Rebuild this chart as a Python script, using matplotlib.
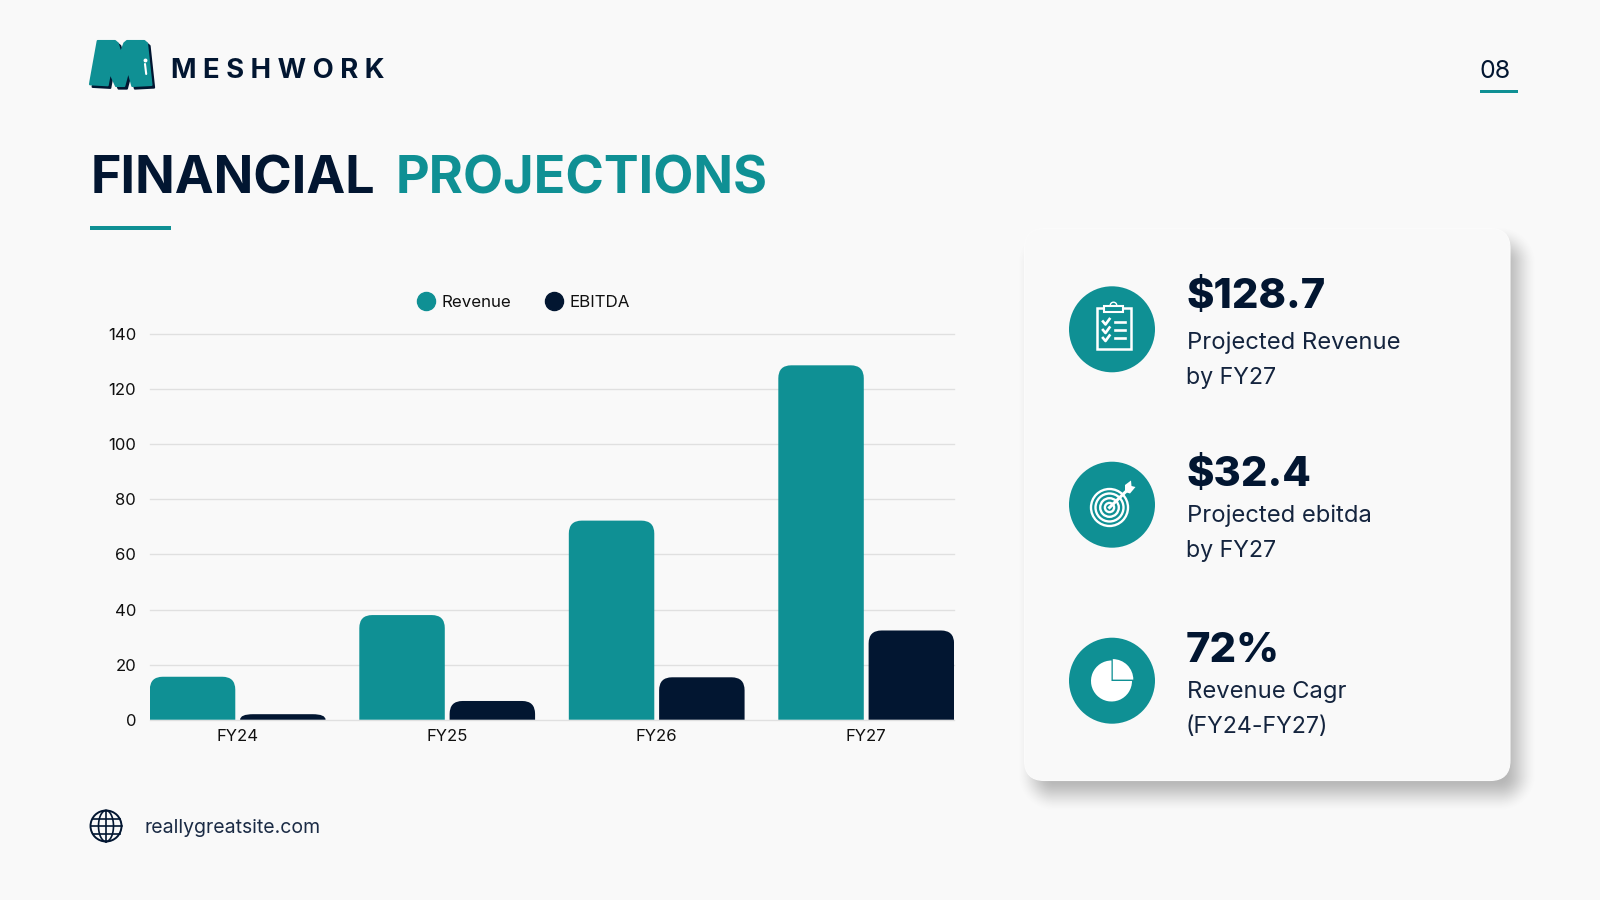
"""Financial projections slide: grouped revenue / EBITDA bars with a KPI card."""
import numpy as np
import matplotlib
matplotlib.use("Agg")
import matplotlib.pyplot as plt
from matplotlib.lines import Line2D
from matplotlib.patches import Circle, FancyBboxPatch, PathPatch, Polygon, Rectangle, Wedge
from matplotlib.path import Path

plt.rcParams["font.family"] = ["Inter", "Lato", "DejaVu Sans"]

NAVY = "#021631"
TEAL = "#0f9094"
BG = "#f9f9f9"
GRID = "#e0e0e0"

YEARS = ["FY24", "FY25", "FY26", "FY27"]
REVENUE = [15.6, 38.0, 72.3, 128.7]
EBITDA = [2.0, 6.8, 15.4, 32.4]
Y_TICKS = [0, 20, 40, 60, 80, 100, 120, 140]

KPI_VALUES = ["$128.7", "$32.4", "72%"]
KPI_LINE1 = ["Projected Revenue", "Projected ebitda", "Revenue Cagr"]
KPI_LINE2 = ["by FY27", "by FY27", "(FY24-FY27)"]

# logo outline in slide pixels
LOGO = [(97.7, 41), (115, 41), (117.7, 43.3), (120.7, 53.3), (124.3, 43.3), (127, 41),
        (144.3, 41), (147, 43.3), (151.5, 85), (132.3, 86), (128.3, 71), (124.3, 86), (116, 86),
        (110, 72.7), (107.7, 85.3), (90, 84.3), (90.5, 81)]

fig = plt.figure(figsize=(16, 9), dpi=100, facecolor=BG)

# slide layer, in pixels with the origin at the top left
bg = fig.add_axes([0, 0, 1, 1], zorder=0)
bg.axis("off")

# card shadow: signed distance of a rounded box pushed through a soft ramp
xx, yy = np.meshgrid(np.arange(980, 1580) + 0.5, np.arange(190, 850) + 0.5)
cx, cy, hw, hh, rad = 1277, 519, 243, 276, 20
qx = np.abs(xx - cx) - hw + rad
qy = np.abs(yy - cy) - hh + rad
dist = np.hypot(np.maximum(qx, 0), np.maximum(qy, 0)) + np.minimum(np.maximum(qx, qy), 0) - rad
soft = np.clip(0.5 - dist / 34, 0, 1)
soft = soft * soft * (3 - 2 * soft) * 0.42
shadow = np.zeros(soft.shape + (4,))
shadow[..., :3] = 0.35
shadow[..., 3] = soft
bg.imshow(shadow, extent=(980, 1580, 850, 190), zorder=1, interpolation="bilinear", aspect="auto")
bg.set_xlim(0, 1600)
bg.set_ylim(900, 0)
bg.add_patch(FancyBboxPatch((1024.5 + 20, 228.5 + 20), 485.5 - 40, 552 - 40,
                            boxstyle="round,pad=20,rounding_size=20", fc=BG, ec="#fbfbfb", lw=0.8, zorder=2))

# logo
bg.add_patch(Polygon([(x + 2.6, y + 2.6) for x, y in LOGO], closed=True, fc=NAVY, ec=NAVY, lw=1.5, joinstyle="round", zorder=3))
bg.add_patch(Polygon(LOGO, closed=True, fc=TEAL, ec=TEAL, lw=1.5, joinstyle="round", zorder=4))
bg.plot([145, 146.2], [64, 74], color="white", lw=1.5, zorder=5, solid_capstyle="round")
bg.plot([144.7], [60], marker="o", ms=1.8, color="white", zorder=5)

bg.text(171, 71.5, "M E S H W O R K", fontsize=19.8, fontweight="bold", color=NAVY, va="center", ha="left")
bg.text(91, 180.5, "FINANCIAL", fontsize=37.5, fontweight="bold", color=NAVY, va="center", ha="left")
bg.text(395.5, 180.5, "PROJECTIONS", fontsize=37.5, fontweight="bold", color=TEAL, va="center", ha="left")
bg.add_patch(Rectangle((90, 226.3), 80.5, 3.5, fc=TEAL, ec="none"))

bg.text(1495, 72, "08", fontsize=18, color=NAVY, va="center", ha="center")
bg.add_patch(Rectangle((1479.5, 90), 38, 3.2, fc=TEAL, ec="none"))

# footer
bg.add_patch(Circle((106, 826), 15.5, fc="none", ec=NAVY, lw=1.4))
th = np.linspace(-np.pi / 2, np.pi / 2, 40)
bg.plot(106 + 7.5 * np.cos(th), 826 + 15.5 * np.sin(th), color=NAVY, lw=1.2)
bg.plot(106 - 7.5 * np.cos(th), 826 + 15.5 * np.sin(th), color=NAVY, lw=1.2)
bg.plot([106, 106], [810.5, 841.5], color=NAVY, lw=1.2)
bg.plot([90.5, 121.5], [826, 826], color=NAVY, lw=1.2)
bg.plot([92.5, 119.5], [818.5, 818.5], color=NAVY, lw=1.2)
bg.plot([92.5, 119.5], [833.5, 833.5], color=NAVY, lw=1.2)
bg.text(145, 828, "reallygreatsite.com", fontsize=14, color="#1b2b45", va="center", ha="left")

# KPI rows
ICON_Y = [329.3, 504.7, 680.7]
VALUE_Y = [297, 474.5, 651]
LINE1_Y = [343, 516, 692]
LINE2_Y = [378, 550.5, 727]
for i in range(3):
    bg.add_patch(Circle((1112, ICON_Y[i]), 43, fc=TEAL, ec="none", zorder=3))
    bg.text(1186, VALUE_Y[i], KPI_VALUES[i], fontsize=30, fontweight=800, color=NAVY, va="center", ha="left")
    bg.text(1187, LINE1_Y[i], KPI_LINE1[i], fontsize=17.1, color="#14243e", va="center", ha="left")
    bg.text(1186, LINE2_Y[i], KPI_LINE2[i], fontsize=16.7, color="#14243e", va="center", ha="left")

# clipboard icon
bg.add_patch(Rectangle((1096.5, 308), 34, 41, fc="none", ec="white", lw=1.8, zorder=4))
bg.add_patch(Rectangle((1104, 306), 19, 5.5, fc=TEAL, ec="white", lw=1.5, zorder=4))
bg.add_patch(Wedge((1113.5, 305.5), 4, 180, 360, width=1.4, fc="white", ec="none", zorder=4))
for yc in (321.5, 330, 338):
    bg.plot([1103, 1105.5, 1109.5], [yc, yc + 3, yc - 2.5], color="white", lw=1.9, zorder=4)
    bg.plot([1114.5, 1125], [yc, yc], color="white", lw=1.9, zorder=4)

# target icon
for r in (18.5, 14, 9.3, 4.6):
    bg.add_patch(Circle((1109.5, 507.5), r, fc="none", ec="white", lw=1.7, zorder=4))
bg.plot([1109.5, 1129], [507.5, 488.5], color="white", lw=2.2, zorder=5)
bg.add_patch(Polygon([(1125, 485), (1131, 480.5), (1131.5, 486), (1135.5, 487), (1130, 493.5), (1125, 492)],
                     closed=True, fc="white", ec="none", zorder=5))

# pie icon (y axis is flipped here, so wedge angles run clockwise on screen)
bg.add_patch(Wedge((1111.5, 681), 20.5, 0, 270, fc="white", ec="none", zorder=4))
bg.add_patch(Wedge((1112.8, 679.6), 20.5, 270, 360, fc="white", ec="none", zorder=4))

# bar chart: axes box spans x 150-954 px and y 334.2-719.7 px
ax = fig.add_axes([150 / 1600, 1 - 719.7 / 900, 804 / 1600, 385.5 / 900], zorder=2)
ax.set_facecolor("none")
ax.set_xlim(-0.4186, 3.4191)
ax.set_ylim(0, 140)
ax.set_axisbelow(True)
ax.yaxis.grid(True, color=GRID, lw=1, clip_on=False)
ax.xaxis.grid(False)
for side in ax.spines:
    ax.spines[side].set_visible(False)
ax.set_yticks(Y_TICKS)
ax.set_xticks(range(len(YEARS)))
ax.set_xticklabels(YEARS)
ax.tick_params(axis="both", length=0, labelsize=12, labelcolor="#101010")
ax.tick_params(axis="y", pad=10)
ax.tick_params(axis="x", pad=7)


def rounded_bar(ax, x, width, height, color):
    # top corners only, 13 px radius converted to data units per axis
    rx = min(13 / 209.5, width / 2)
    ry = min(13 / 2.75, height)
    left, right = x - width / 2, x + width / 2
    verts = [(left, 0), (left, height - ry), (left, height), (left + rx, height),
             (right - rx, height), (right, height), (right, height - ry), (right, 0), (left, 0)]
    codes = [Path.MOVETO, Path.LINETO, Path.CURVE3, Path.CURVE3,
             Path.LINETO, Path.CURVE3, Path.CURVE3, Path.LINETO, Path.CLOSEPOLY]
    ax.add_patch(PathPatch(Path(verts, codes), fc=color, ec="none", zorder=3))


BAR_W = 0.408
OFFSET = 0.2155
for i in range(len(YEARS)):
    rounded_bar(ax, i - OFFSET, BAR_W, REVENUE[i], TEAL)
    rounded_bar(ax, i + OFFSET, BAR_W, EBITDA[i], NAVY)

handles = [Line2D([], [], ls="none", marker="o", ms=13, color=TEAL, label="Revenue"),
           Line2D([], [], ls="none", marker="o", ms=13, color=NAVY, label="EBITDA")]
ax.legend(handles=handles, loc="lower center", bbox_to_anchor=(0.465, 1.0275), ncol=2, frameon=False,
          fontsize=12.2, labelcolor="#101010", handlelength=1.0, handletextpad=0.4,
          columnspacing=2.05, borderpad=0.3)

fig.savefig("out.png", dpi=100, facecolor=BG)
